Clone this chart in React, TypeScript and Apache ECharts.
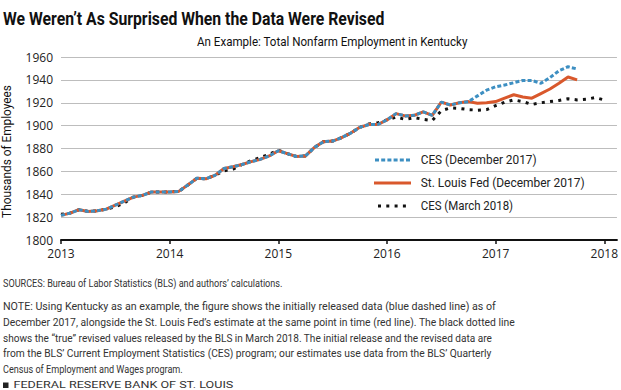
import React, { useEffect, useRef } from "react";
import * as echarts from "echarts";

// ---- data (monthly, Jan 2013 = index 0) ----
const startYear = 2013;
const yearTicks = ["2013", "2014", "2015", "2016", "2017", "2018"];
const yTicks = [1800, 1820, 1840, 1860, 1880, 1900, 1920, 1940, 1960];

const cesDec2017 = [
  1821.5, 1823.5, 1826.5, 1825, 1825.5, 1827, 1830.5, 1834, 1837.5, 1839, 1842, 1842,
  1842, 1842.5, 1848, 1854, 1853.5, 1856.5, 1862.5, 1864, 1866, 1868.5, 1870.5, 1873.5,
  1878, 1875.5, 1873, 1873.5, 1881, 1886, 1886.5, 1889.5, 1893.5, 1898.5, 1901, 1901,
  1905, 1910.5, 1908.5, 1909, 1912, 1909, 1920.5, 1918, 1920, 1921, 1926, 1931,
  1934, 1935.5, 1937.5, 1939.5, 1939.5, 1937, 1942, 1948, 1951.5, 1949.5,
];
const stlFedDec2017 = [
  1821.5, 1823.5, 1826.5, 1825, 1825.5, 1827, 1830.5, 1834, 1837.5, 1839, 1842, 1842,
  1842, 1842.5, 1848, 1854, 1853.5, 1856.5, 1862.5, 1864, 1866, 1868.5, 1870.5, 1873.5,
  1878, 1875.5, 1873, 1873.5, 1881, 1886, 1886.5, 1889.5, 1893.5, 1898.5, 1901, 1901,
  1905, 1910.5, 1908.5, 1909, 1912, 1909, 1920.5, 1918, 1920, 1921, 1919.5, 1920,
  1921, 1924, 1927, 1925, 1924, 1928, 1932, 1937, 1942.5, 1940,
];
const cesMar2018 = [
  1822.5, 1823.5, 1826.5, 1825, 1825.5, 1827, 1829, 1832.5, 1837.5, 1839, 1842, 1842,
  1842, 1842.5, 1848, 1854, 1853.5, 1856.5, 1860.5, 1862, 1866, 1869.5, 1872, 1875,
  1878.5, 1875.5, 1873, 1873.5, 1881, 1886, 1886.5, 1889.5, 1893.5, 1898.5, 1901.5, 1902.5,
  1905, 1907.5, 1905.5, 1907, 1905.5, 1904.5, 1913, 1915.5, 1915, 1914, 1913.5, 1914,
  1917.5, 1920.5, 1922.5, 1921, 1918.5, 1920, 1921, 1922, 1923.5, 1922.5, 1923, 1924.5,
  1922.5,
];

const seriesNames = ["CES (December 2017)", "St. Louis Fed (December 2017)", "CES (March 2018)"];
const colors = { blue: "#3d8fc2", red: "#d9582c", black: "#111111" };

const title = "We Weren\u2019t As Surprised When the Data Were Revised";
const subtitle = "An Example: Total Nonfarm Employment in Kentucky";
const yName = "Thousands of Employees";
const sources = "SOURCES: Bureau of Labor Statistics (BLS) and authors\u2019 calculations.";
const noteLines = [
  "NOTE: Using Kentucky as an example, the figure shows the initially released data (blue dashed line) as of",
  "December 2017, alongside the St. Louis Fed\u2019s estimate at the same point in time (red line). The black dotted line",
  "shows the \u201ctrue\u201d revised values released by the BLS in March 2018. The initial release and the revised data are",
  "from the BLS\u2019 Current Employment Statistics (CES) program; our estimates use data from the BLS\u2019 Quarterly",
  "Census of Employment and Wages program.",
];
const footer = "FEDERAL RESERVE BANK OF ST. LOUIS";

const toPairs = (arr: number[]) => arr.map((v, i) => [i, v]);

let ctx: CanvasRenderingContext2D | null = null;
const measure = (text: string, font: string) => {
  if (!ctx) ctx = document.createElement("canvas").getContext("2d");
  if (!ctx) return 1;
  ctx.font = font;
  return ctx.measureText(text).width || 1;
};

const FF = "Roboto, 'Open Sans', sans-serif";

function fitText(text: string, x: number, y: number, width: number, font: string, fill: string, extra: any = {}) {
  const w = measure(text, font);
  return {
    type: "text",
    x,
    y,
    scaleX: width / w,
    silent: true,
    style: { text, font, fill, align: "left", verticalAlign: "middle" },
    ...extra,
  };
}

export default function App() {
  const ref = useRef<HTMLDivElement>(null);
  useEffect(() => {
    if (!ref.current) return;
    const chart = echarts.init(ref.current, undefined, { renderer: "svg" });

    const titleFont = `bold 18px ${FF}`;
    const subFont = `12px ${FF}`;
    const noteFont = `11.5px ${FF}`;
    const legFont = `12px ${FF}`;
    const noteWidths = [493, 512, 490, 489, 180];
    const noteYs = [306.5, 322.5, 338, 353.5, 369];

    const yLabelFont = `12.5px ${FF}`;
    const yLabelW = measure(yName, yLabelFont);

    const graphic: any[] = [
      fitText(title, 3, 19, 382, titleFont, "#111"),
      fitText(subtitle, 197, 42, 271, subFont, "#111"),
      {
        type: "text",
        x: 7,
        y: 151.5,
        rotation: Math.PI / 2,
        scaleX: 133 / yLabelW,
        silent: true,
        style: { text: yName, font: yLabelFont, fill: "#111", align: "center", verticalAlign: "middle" },
      },
      fitText(sources, 3, 283.5, 280, noteFont, "#333"),
      ...noteLines.map((t, i) => fitText(t, 3, noteYs[i], noteWidths[i], noteFont, "#333")),
      { type: "rect", shape: { x: 3, y: 382.5, width: 5.5, height: 5.5 }, style: { fill: "#222" }, silent: true },
      fitText(footer, 13.5, 385.5, 220, `9px ${FF}`, "#333"),
      // legend
      {
        type: "line",
        shape: { x1: 375, y1: 160, x2: 411, y2: 160 },
        style: { stroke: colors.blue, lineWidth: 3, lineDash: [4, 2.2] },
      },
      {
        type: "line",
        shape: { x1: 374, y1: 183, x2: 411, y2: 183 },
        style: { stroke: colors.red, lineWidth: 3 },
      },
      {
        type: "line",
        shape: { x1: 378, y1: 206, x2: 411, y2: 206 },
        style: { stroke: colors.black, lineWidth: 3, lineDash: [3, 5.3] },
      },
      fitText(seriesNames[0], 420.7, 160, 116, legFont, "#222"),
      fitText(seriesNames[1], 420.7, 183, 164, legFont, "#222"),
      fitText(seriesNames[2], 420.7, 206, 92.6, legFont, "#222"),
    ];

    chart.setOption({
      animation: false,
      backgroundColor: "#ffffff",
      grid: { left: 61, right: 3, top: 57, bottom: 150, containLabel: false },
      xAxis: {
        type: "value",
        min: 0,
        max: 61.4,
        interval: 12,
        axisLine: { show: true, onZero: false, lineStyle: { color: "#111", width: 2 } },
        axisTick: { show: true, length: 4, lineStyle: { color: "#111", width: 1.5 } },
        splitLine: { show: false },
        axisLabel: {
          color: "#222",
          fontSize: 12,
          fontFamily: "'Open Sans', sans-serif",
          margin: 7,
          showMaxLabel: false,
          formatter: (v: number) => {
            const idx = Math.round(v / 12);
            return Math.abs(v - idx * 12) < 0.01 && yearTicks[idx] ? yearTicks[idx] : "";
          },
        },
      },
      yAxis: {
        type: "value",
        min: yTicks[0],
        max: yTicks[yTicks.length - 1],
        interval: 20,
        axisLine: { show: false },
        axisTick: { show: false },
        splitLine: { show: true, lineStyle: { color: "#bdbdbd", width: 1.2 } },
        axisLabel: {
          color: "#222",
          fontSize: 12,
          fontFamily: "'Open Sans', sans-serif",
          margin: 8,
          formatter: (v: number) => String(v),
        },
      },
      series: [
        {
          name: seriesNames[2],
          type: "line",
          data: toPairs(cesMar2018),
          symbol: "none",
          lineStyle: { color: colors.black, width: 3, type: [3, 5.3] },
          z: 2,
        },
        {
          name: seriesNames[1],
          type: "line",
          data: toPairs(stlFedDec2017),
          symbol: "none",
          lineStyle: { color: colors.red, width: 3 },
          z: 3,
        },
        {
          name: seriesNames[0],
          type: "line",
          data: toPairs(cesDec2017),
          symbol: "none",
          lineStyle: { color: colors.blue, width: 3, type: [4, 2.2] },
          z: 4,
        },
      ],
      graphic,
    });
    return () => chart.dispose();
  }, []);
  return (
    <div
      ref={ref}
      style={{ position: "fixed", left: 0, top: 0, width: 621, height: 390, background: "#fff" }}
    />
  );
}
